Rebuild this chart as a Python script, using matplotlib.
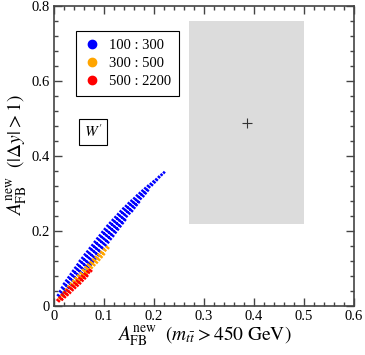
import matplotlib
matplotlib.use('Agg')
import matplotlib.pyplot as plt
from matplotlib.lines import Line2D
from matplotlib.patches import Rectangle

plt.rcParams['font.family'] = ['Liberation Serif', 'DejaVu Serif']
plt.rcParams['mathtext.fontset'] = 'stix'

# scan bands: rib centres (x, y) and half-width in x
blue_x = [0.010, 0.015, 0.020, 0.025, 0.030, 0.035, 0.040, 0.045, 0.050, 0.055,
          0.060, 0.065, 0.070, 0.075, 0.080, 0.085, 0.090, 0.095, 0.100, 0.105,
          0.110, 0.115, 0.120, 0.125, 0.130, 0.135, 0.140, 0.145, 0.150, 0.155,
          0.160, 0.165, 0.170, 0.175, 0.180, 0.185, 0.190, 0.195, 0.200, 0.205,
          0.210, 0.215, 0.220]
blue_y = [0.026, 0.035, 0.044, 0.053, 0.061, 0.069, 0.077, 0.085, 0.093, 0.101,
          0.110, 0.118, 0.127, 0.135, 0.144, 0.152, 0.161, 0.170, 0.178, 0.187,
          0.195, 0.204, 0.212, 0.220, 0.228, 0.236, 0.244, 0.252, 0.259, 0.267,
          0.274, 0.281, 0.289, 0.296, 0.303, 0.310, 0.317, 0.323, 0.330, 0.336,
          0.343, 0.349, 0.355]
blue_dx = [0.002, 0.003, 0.004, 0.005, 0.0055, 0.006, 0.0065, 0.007, 0.0075, 0.008,
           0.0085, 0.0085, 0.0085, 0.0085, 0.0085, 0.0085, 0.0085, 0.0085, 0.0085, 0.0085,
           0.0085, 0.0083, 0.008, 0.0078, 0.0075, 0.0072, 0.007, 0.0066, 0.0062, 0.0058,
           0.0053, 0.0048, 0.0043, 0.0038, 0.0033, 0.0028, 0.0022, 0.0017, 0.0012, 0.0008,
           0.0005, 0.0003, 0.0002]

orange_x = [0.012, 0.017, 0.022, 0.027, 0.032, 0.037, 0.042, 0.047, 0.052, 0.057,
            0.062, 0.067, 0.072, 0.077, 0.082, 0.087, 0.092, 0.097, 0.102, 0.107]
orange_y = [0.019, 0.026, 0.033, 0.040, 0.048, 0.055, 0.062, 0.069, 0.076, 0.083,
            0.091, 0.098, 0.105, 0.112, 0.119, 0.126, 0.133, 0.140, 0.148, 0.155]
orange_dx = [0.0015, 0.002, 0.0025, 0.003, 0.0033, 0.0035, 0.0037, 0.004, 0.004, 0.004,
             0.004, 0.004, 0.004, 0.004, 0.0038, 0.0035, 0.0032, 0.0028, 0.0022, 0.0015]

red_x = [0.009, 0.014, 0.019, 0.024, 0.029, 0.034, 0.039, 0.044, 0.049, 0.054,
         0.059, 0.064, 0.069, 0.073]
red_y = [0.013, 0.019, 0.026, 0.032, 0.038, 0.045, 0.051, 0.057, 0.063, 0.070,
         0.076, 0.082, 0.089, 0.094]
red_dx = [0.002, 0.0025, 0.003, 0.0032, 0.0033, 0.0033, 0.0033, 0.0033, 0.0033, 0.0032,
          0.003, 0.0026, 0.002, 0.0015]

labels = ['100 : 300', '300 : 500', '500 : 2200']
colors = ['#0000ff', '#ffa500', '#ff0000']

# measured value and its allowed region
meas_x = 0.385
meas_y = 0.487
box_x = [0.27, 0.50]
box_y = [0.218, 0.758]

xticks = [0, 0.1, 0.2, 0.3, 0.4, 0.5, 0.6]
xticklabels = ['0', '0.1', '0.2', '0.3', '0.4', '0.5', '0.6']
yticks = [0, 0.2, 0.4, 0.6, 0.8]
yticklabels = ['0', '0.2', '0.4', '0.6', '0.8']

fig = plt.figure(figsize=(3.65, 3.55), dpi=100)
ax = fig.add_axes([0.148, 0.139, 0.822, 0.845])

ax.add_patch(Rectangle((box_x[0], box_y[0]), box_x[1] - box_x[0], box_y[1] - box_y[0],
                       facecolor='#dcdcdc', edgecolor='none', zorder=1))
ax.plot(meas_x, meas_y, marker='+', color='#333333', markersize=7, mew=0.8, zorder=2)

k = 1.1  # rib slant
for xs, ys, dxs, c in [(blue_x, blue_y, blue_dx, colors[0]),
                       (orange_x, orange_y, orange_dx, colors[1]),
                       (red_x, red_y, red_dx, colors[2])]:
    for xc, yc, dx in zip(xs, ys, dxs):
        ax.plot([xc - dx, xc + dx], [yc + k * dx, yc - k * dx], color=c, lw=1.7,
                linestyle=(0, (0.8, 0.5)), dash_capstyle='projecting',
                solid_capstyle='projecting', zorder=3)

handles = [Line2D([], [], marker='o', linestyle='none', color=c, markersize=6) for c in colors]
leg = ax.legend(handles, labels, loc='upper left', bbox_to_anchor=(0.072, 0.915),
                fancybox=False, edgecolor='black', framealpha=1, fontsize=10.5,
                handletextpad=0.6, borderpad=0.5, labelspacing=0.35, handlelength=1.2,
                borderaxespad=0)
leg.get_frame().set_linewidth(0.8)

ax.text(0.078, 0.463, "$W'$", fontsize=11, ha='center', va='center',
        bbox=dict(boxstyle='square,pad=0.3', facecolor='white', edgecolor='black', linewidth=0.8))

ax.set_xlim(0, 0.6)
ax.set_ylim(0, 0.8)
ax.set_xticks(xticks)
ax.set_xticklabels(xticklabels)
ax.set_yticks(yticks)
ax.set_yticklabels(yticklabels)
ax.set_xticks([i * 0.02 for i in range(31)], minor=True)
ax.set_yticks([i * 0.04 for i in range(21)], minor=True)
ax.tick_params(which='both', direction='in', top=True, right=True, labelsize=10.5,
               color='#444444', width=1.0)
ax.tick_params(which='major', length=6, pad=3)
ax.tick_params(which='minor', length=3)
for s in ax.spines.values():
    s.set_linewidth(1.2)
    s.set_color('#444444')

ax.set_xlabel(r'$A_{\rm FB}^{\rm new}\ \ (m_{t\bar{t}} > 450\ {\rm GeV})$', fontsize=14, labelpad=1)
ax.set_ylabel(r'$A_{\rm FB}^{\rm new}\ \ (|\Delta y| > 1)$', fontsize=14, labelpad=2)

fig.savefig('out.png', dpi=100)
